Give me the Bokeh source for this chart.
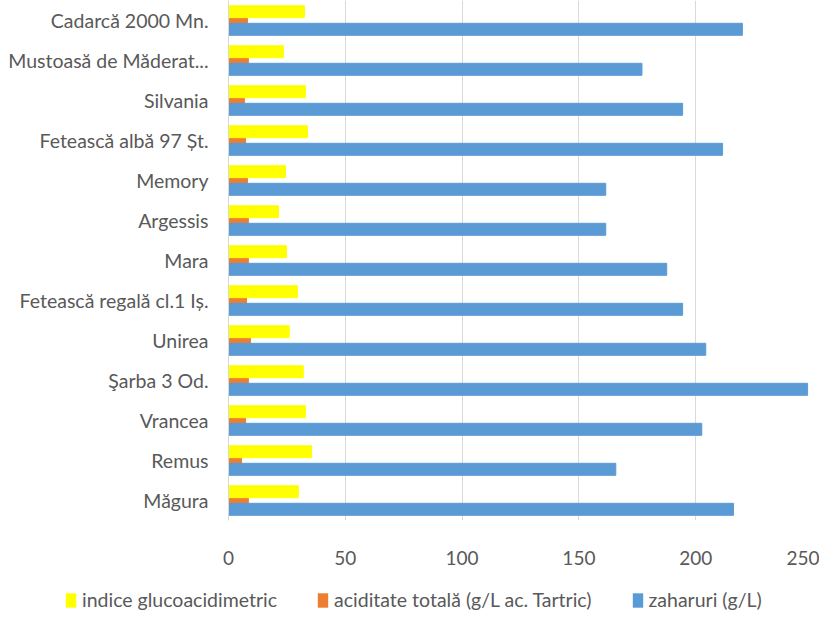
from bokeh.plotting import figure
from bokeh.models import ColumnDataSource, FactorRange, Legend, LegendItem, FixedTicker
from bokeh.transform import dodge
from bokeh.layouts import column, row
from bokeh.embed import file_html
from bokeh.resources import INLINE

categories = ["Cadarcă 2000 Mn.", "Mustoasă de Măderat...", "Silvania", "Fetească albă 97 Șt.",
              "Memory", "Argessis", "Mara", "Fetească regală cl.1 Iș.", "Unirea",
              "Şarba 3 Od.", "Vrancea", "Remus", "Măgura"]
indice = [32.5, 23.5, 32.9, 33.8, 24.4, 21.4, 24.8, 29.5, 26.0, 32.0, 32.9, 35.5, 29.9]
aciditate = [8.1, 8.5, 6.8, 7.3, 8.1, 8.5, 8.5, 7.7, 9.4, 8.5, 7.3, 5.6, 8.5]
zaharuri = [220.0, 177.0, 194.4, 211.5, 161.5, 161.5, 187.6, 194.4, 204.3, 247.9, 202.6, 165.8, 216.2]
series_names = ["indice glucoacidimetric", "aciditate totală (g/L ac. Tartric)", "zaharuri (g/L)"]
series_colors = ["#FFFF00", "#ED7D31", "#5B9BD5"]
x_ticks = [0, 50, 100, 150, 200, 250]

FONT = "Lato"
TXT = "#595959"

src = ColumnDataSource(dict(cat=categories, ind=indice, acid=aciditate, zah=zaharuri))

p = figure(width=819, height=572, output_backend="svg", toolbar_location=None,
           y_range=FactorRange(factors=categories[::-1], range_padding=0),
           x_range=(0, 250),
           min_border_left=228, min_border_right=7, min_border_top=0, min_border_bottom=52)
p.outline_line_color = None

p.hbar(y=dodge("cat", 0.0, range=p.y_range), right="acid", left=0, height=0.3,
       source=src, color=series_colors[1])
p.hbar(y=dodge("cat", 0.22, range=p.y_range), right="ind", left=0, height=0.3,
       source=src, color=series_colors[0])
p.hbar(y=dodge("cat", -0.22, range=p.y_range), right="zah", left=0, height=0.3,
       source=src, color=series_colors[2])

p.xaxis.ticker = FixedTicker(ticks=x_ticks)
p.xaxis.axis_line_color = None
p.xaxis.major_tick_line_color = None
p.xaxis.minor_tick_line_color = None
p.xaxis.major_label_standoff = 24
p.xaxis.major_label_text_font = FONT
p.xaxis.major_label_text_font_size = "19px"
p.xaxis.major_label_text_color = TXT

p.yaxis.axis_line_color = "#d9d9d9"
p.yaxis.major_tick_line_color = None
p.yaxis.minor_tick_line_color = None
p.yaxis.major_label_standoff = 14
p.yaxis.major_label_text_font = FONT
p.yaxis.major_label_text_font_size = "19.5px"
p.yaxis.major_label_text_color = TXT

p.xgrid.grid_line_color = "#d9d9d9"
p.ygrid.grid_line_color = None

# legend strip
lg = figure(width=819, height=39, output_backend="svg", toolbar_location=None,
            x_range=(0, 1), y_range=(0, 1), min_border=0,
            x_axis_location=None, y_axis_location=None)
lg.grid.visible = False
lg.outline_line_color = None
items = []
for name, col in zip(series_names, series_colors):
    r = lg.hbar(y=[0.5], right=[0], left=[0], height=0.3, fill_color=col, line_color=None)
    items.append(LegendItem(label=name, renderers=[r]))
legend = Legend(items=items, orientation="horizontal", location=(64, 0),
                glyph_width=13, glyph_height=18, label_standoff=5, spacing=39,
                padding=0, margin=0, border_line_color=None, background_fill_alpha=0,
                label_text_font=FONT, label_text_font_size="19.5px", label_text_color=TXT)
lg.add_layout(legend, "center")

layout = column(p, row(lg, spacing=0), spacing=0)
open("out.html", "w").write(file_html(layout, INLINE))
